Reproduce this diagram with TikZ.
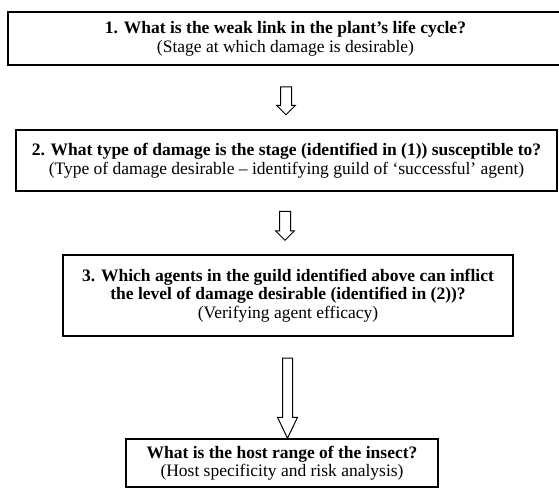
\documentclass[tikz,border=0pt]{standalone}
\usepackage{fontspec}
\setmainfont{Liberation Serif}
\usetikzlibrary{shapes.arrows}
\tikzstyle{question} = [draw, line width=1.2pt, align=center, inner sep=0pt, font=\fontsize{17.5}{18.5}\selectfont]
\tikzstyle{hollow} = [draw, line width=1pt, single arrow, shape border rotate=270, inner ysep=0pt, single arrow head indent=0pt]

\begin{document}
\begin{tikzpicture}[x=1pt, y=-1pt]
            \useasboundingbox (0,0) rectangle (559,487);
            \node[question, minimum width=555, minimum height=53] (weak) at (285.5,38.5)
            {\textbf{1. What is the weak link in the plant's life cycle?}\\(Stage at which damage is desirable)};
            \node[question, minimum width=541, minimum height=61] (damage) at (286.5,160.5)
            {\textbf{2. What type of damage is the stage (identified in (1)) susceptible to?}\\(Type of damage desirable -- identifying guild of `successful' agent)};
            \node[question, minimum width=450, minimum height=81] (agents) at (288,295.5)
            {\textbf{3. Which agents in the guild identified above can inflict}\\\textbf{the level of damage desirable (identified in (2))?}\\(Verifying agent efficacy)};
            \node[question, minimum width=312, minimum height=48] (range) at (282,463)
            {\textbf{What is the host range of the insect?}\\(Host specificity and risk analysis)};
            % arrows between the questions
            \node[hollow, inner xsep=5pt, minimum height=28, single arrow head extend=4] (a1) at (286,98) {};
            \node[hollow, inner xsep=5pt, minimum height=29, single arrow head extend=4] (a2) at (285,223) {};
            \node[hollow, inner xsep=4.5pt, minimum height=80, single arrow head extend=5, single arrow tip angle=51] (a3) at (287.5,393) {};
        \end{tikzpicture}
\end{document}
